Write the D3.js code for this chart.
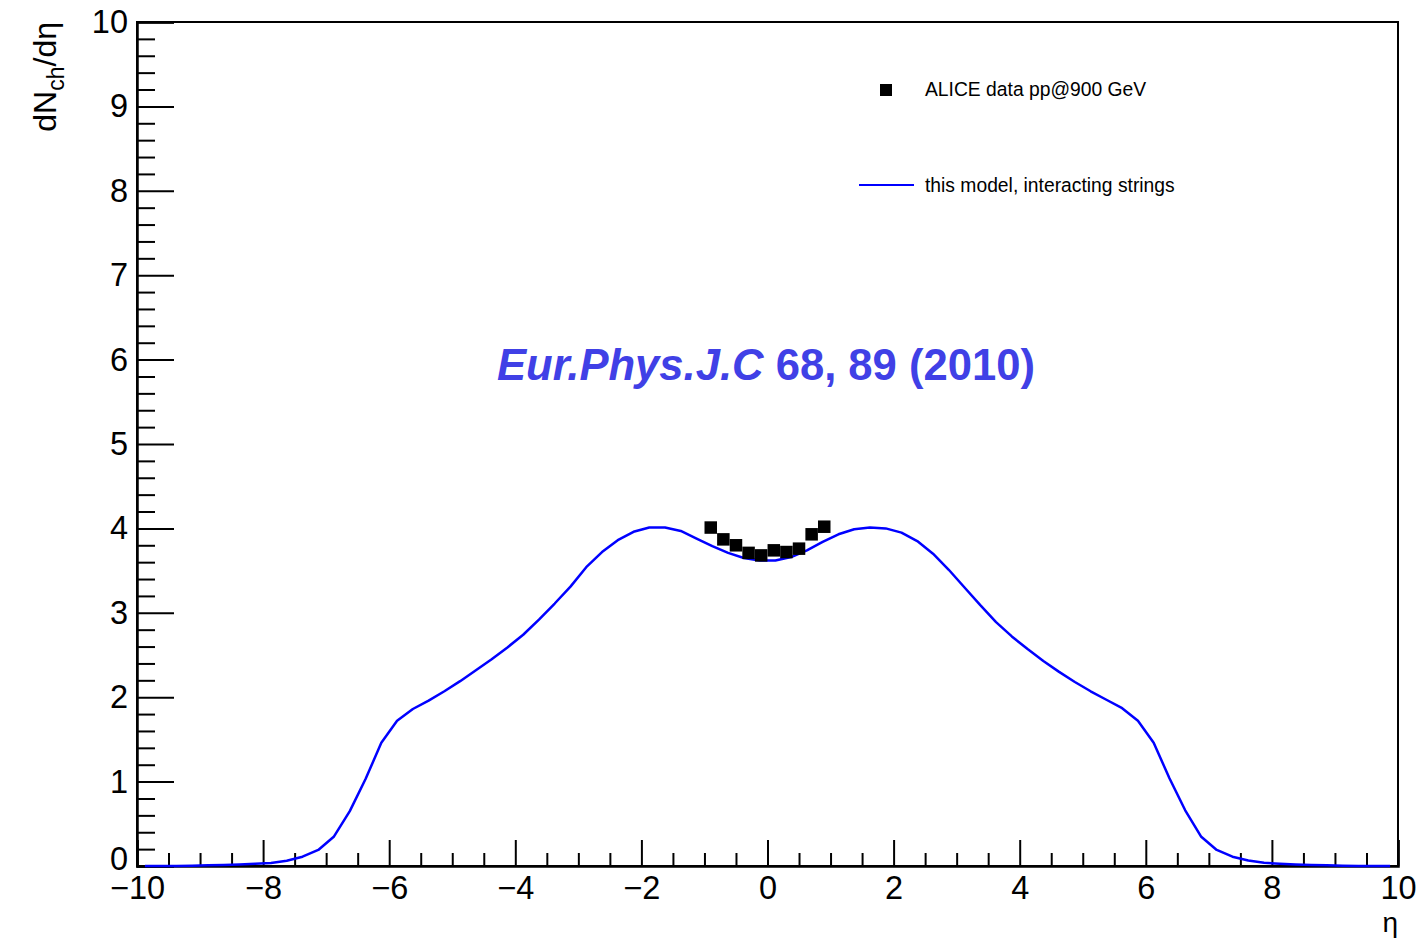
<!DOCTYPE html>
<html>
<head>
<meta charset="utf-8">
<script src="https://cdn.jsdelivr.net/npm/d3@7"></script>
<style>
  html, body { margin: 0; padding: 0; background: #fff; }
  svg { display: block; font-family: "Liberation Sans", Arial, Helvetica, sans-serif; }
</style>
</head>
<body>
<svg id="chart" width="1419" height="941"></svg>
<script>
// Pseudorapidity bin centres for the model curve (0.25 wide bins)
const modelEta = d3.range(80).map(i => -9.875 + 0.25 * i);
// dN_ch/deta from the interacting-strings model
const modelValues = [
  0.000, 0.000, 0.001, 0.004, 0.008, 0.012, 0.018, 0.026, 0.036, 0.063,
  0.110, 0.190, 0.350, 0.650, 1.030, 1.460, 1.720, 1.860, 1.960, 2.070,
  2.190, 2.320, 2.450, 2.590, 2.740, 2.920, 3.110, 3.310, 3.540, 3.720,
  3.860, 3.960, 4.010, 4.010, 3.970, 3.880, 3.790, 3.710, 3.650, 3.620,
  3.620, 3.660, 3.740, 3.840, 3.930, 3.990, 4.010, 4.000, 3.950, 3.850,
  3.700, 3.510, 3.300, 3.090, 2.890, 2.720, 2.570, 2.430, 2.300, 2.180,
  2.070, 1.970, 1.870, 1.720, 1.460, 1.040, 0.660, 0.350, 0.190, 0.110,
  0.065, 0.038, 0.027, 0.018, 0.012, 0.008, 0.004, 0.001, 0.000, 0.000
];
// ALICE pp @ 900 GeV measurement
const aliceEta = [-0.9, -0.7, -0.5, -0.3, -0.1, 0.1, 0.3, 0.5, 0.7, 0.9];
const aliceValues = [4.01, 3.87, 3.80, 3.71, 3.68, 3.74, 3.72, 3.76, 3.93, 4.02];

const xMajorTicks = [-10, -8, -6, -4, -2, 0, 2, 4, 6, 8, 10];
const yMajorTicks = [0, 1, 2, 3, 4, 5, 6, 7, 8, 9, 10];
const legendLabels = ["ALICE data pp@900 GeV", "this model, interacting strings"];

const frame = { left: 137, right: 1398, top: 22, bottom: 866 };
const svg = d3.select("#chart");

const x = d3.scaleLinear().domain([-10, 10]).range([frame.left, frame.right]);
const y = d3.scaleLinear().domain([0, 10]).range([frame.bottom, frame.top]);

// frame box
svg.append("rect")
  .attr("x", frame.left).attr("y", frame.top)
  .attr("width", frame.right - frame.left).attr("height", frame.bottom - frame.top)
  .attr("fill", "none").attr("stroke", "#000").attr("stroke-width", 2);

// x axis: minor ticks every 0.5, major every 2
const xMinor = d3.range(-10, 10.001, 0.5).filter(v => Math.abs(v % 2) > 1e-9);
svg.append("g").attr("transform", `translate(0,${frame.bottom})`)
  .call(d3.axisBottom(x).tickValues(xMinor).tickSize(-13).tickFormat(""))
  .call(g => g.select(".domain").remove())
  .call(g => g.selectAll("line").attr("stroke", "#000").attr("stroke-width", 2));
svg.append("g").attr("transform", `translate(0,${frame.bottom})`)
  .call(d3.axisBottom(x).tickValues(xMajorTicks).tickSize(-26).tickPadding(10).tickFormat(d3.format("d")))
  .call(g => g.select(".domain").attr("stroke", "#000").attr("stroke-width", 2.5))
  .call(g => g.selectAll("line").attr("stroke", "#000").attr("stroke-width", 2))
  .call(g => g.selectAll("text").attr("font-size", 32.5).attr("fill", "#000")
    .attr("font-family", "Liberation Sans, Arial, sans-serif"));

// y axis: minor ticks every 0.2, major every 1
const yMinor = d3.range(0, 10.001, 0.2).filter(v => Math.abs(v - Math.round(v)) > 1e-6);
svg.append("g").attr("transform", `translate(${frame.left},0)`)
  .call(d3.axisLeft(y).tickValues(yMinor).tickSize(-18).tickFormat(""))
  .call(g => g.select(".domain").remove())
  .call(g => g.selectAll("line").attr("stroke", "#000").attr("stroke-width", 2));
svg.append("g").attr("transform", `translate(${frame.left},0)`)
  .call(d3.axisLeft(y).tickValues(yMajorTicks).tickSize(-37).tickPadding(9).tickFormat(d3.format("d")))
  .call(g => g.select(".domain").attr("stroke", "#000").attr("stroke-width", 2.5))
  .call(g => g.selectAll("line").attr("stroke", "#000").attr("stroke-width", 2))
  .call(g => g.selectAll("text").attr("font-size", 32.5).attr("fill", "#000")
    .attr("font-family", "Liberation Sans, Arial, sans-serif"))
  // the zero label sits just above the bottom-left corner
  .call(g => g.selectAll(".tick").filter(d => d === 0).select("text").attr("dy", "0.12em"));

// axis titles
const yTitle = svg.append("text")
  .attr("transform", `translate(56,${frame.top}) rotate(-90)`)
  .attr("text-anchor", "end").attr("font-size", 32).attr("fill", "#000");
yTitle.append("tspan").text("dN");
yTitle.append("tspan").attr("font-size", 23).attr("dy", 8).text("ch");
yTitle.append("tspan").attr("dy", -8).text("/d\u03b7");

svg.append("text")
  .attr("x", frame.right).attr("y", 932)
  .attr("text-anchor", "end").attr("font-size", 28).attr("fill", "#000")
  .text("\u03b7");

// model curve
const line = d3.line().x((d, i) => x(modelEta[i])).y(d => y(d));
svg.append("path").datum(modelValues)
  .attr("d", line)
  .attr("fill", "none").attr("stroke", "#0000ff").attr("stroke-width", 2.5)
  .attr("stroke-linejoin", "round");

// ALICE points
const markerSize = 12.5;
svg.append("g").selectAll("rect").data(aliceValues).join("rect")
  .attr("x", (d, i) => x(aliceEta[i]) - markerSize / 2)
  .attr("y", d => y(d) - markerSize / 2)
  .attr("width", markerSize).attr("height", markerSize)
  .attr("fill", "#000");

// legend
const leg = svg.append("g");
leg.append("rect").attr("x", 880).attr("y", 84).attr("width", 12).attr("height", 12).attr("fill", "#000");
leg.append("text").attr("x", 925).attr("y", 96).attr("font-size", 19.3).attr("fill", "#000").text(legendLabels[0]);
leg.append("line").attr("x1", 859).attr("x2", 914).attr("y1", 185).attr("y2", 185)
  .attr("stroke", "#0000ff").attr("stroke-width", 2);
leg.append("text").attr("x", 925).attr("y", 192).attr("font-size", 19.3).attr("fill", "#000").text(legendLabels[1]);

// reference annotation
const ref = svg.append("text")
  .attr("x", 497).attr("y", 380)
  .attr("font-size", 43.6).attr("font-weight", "bold").attr("fill", "#4040e6");
ref.append("tspan").attr("font-style", "italic").text("Eur.Phys.J.C");
ref.append("tspan").text(" 68, 89 (2010)");
</script>
</body>
</html>
